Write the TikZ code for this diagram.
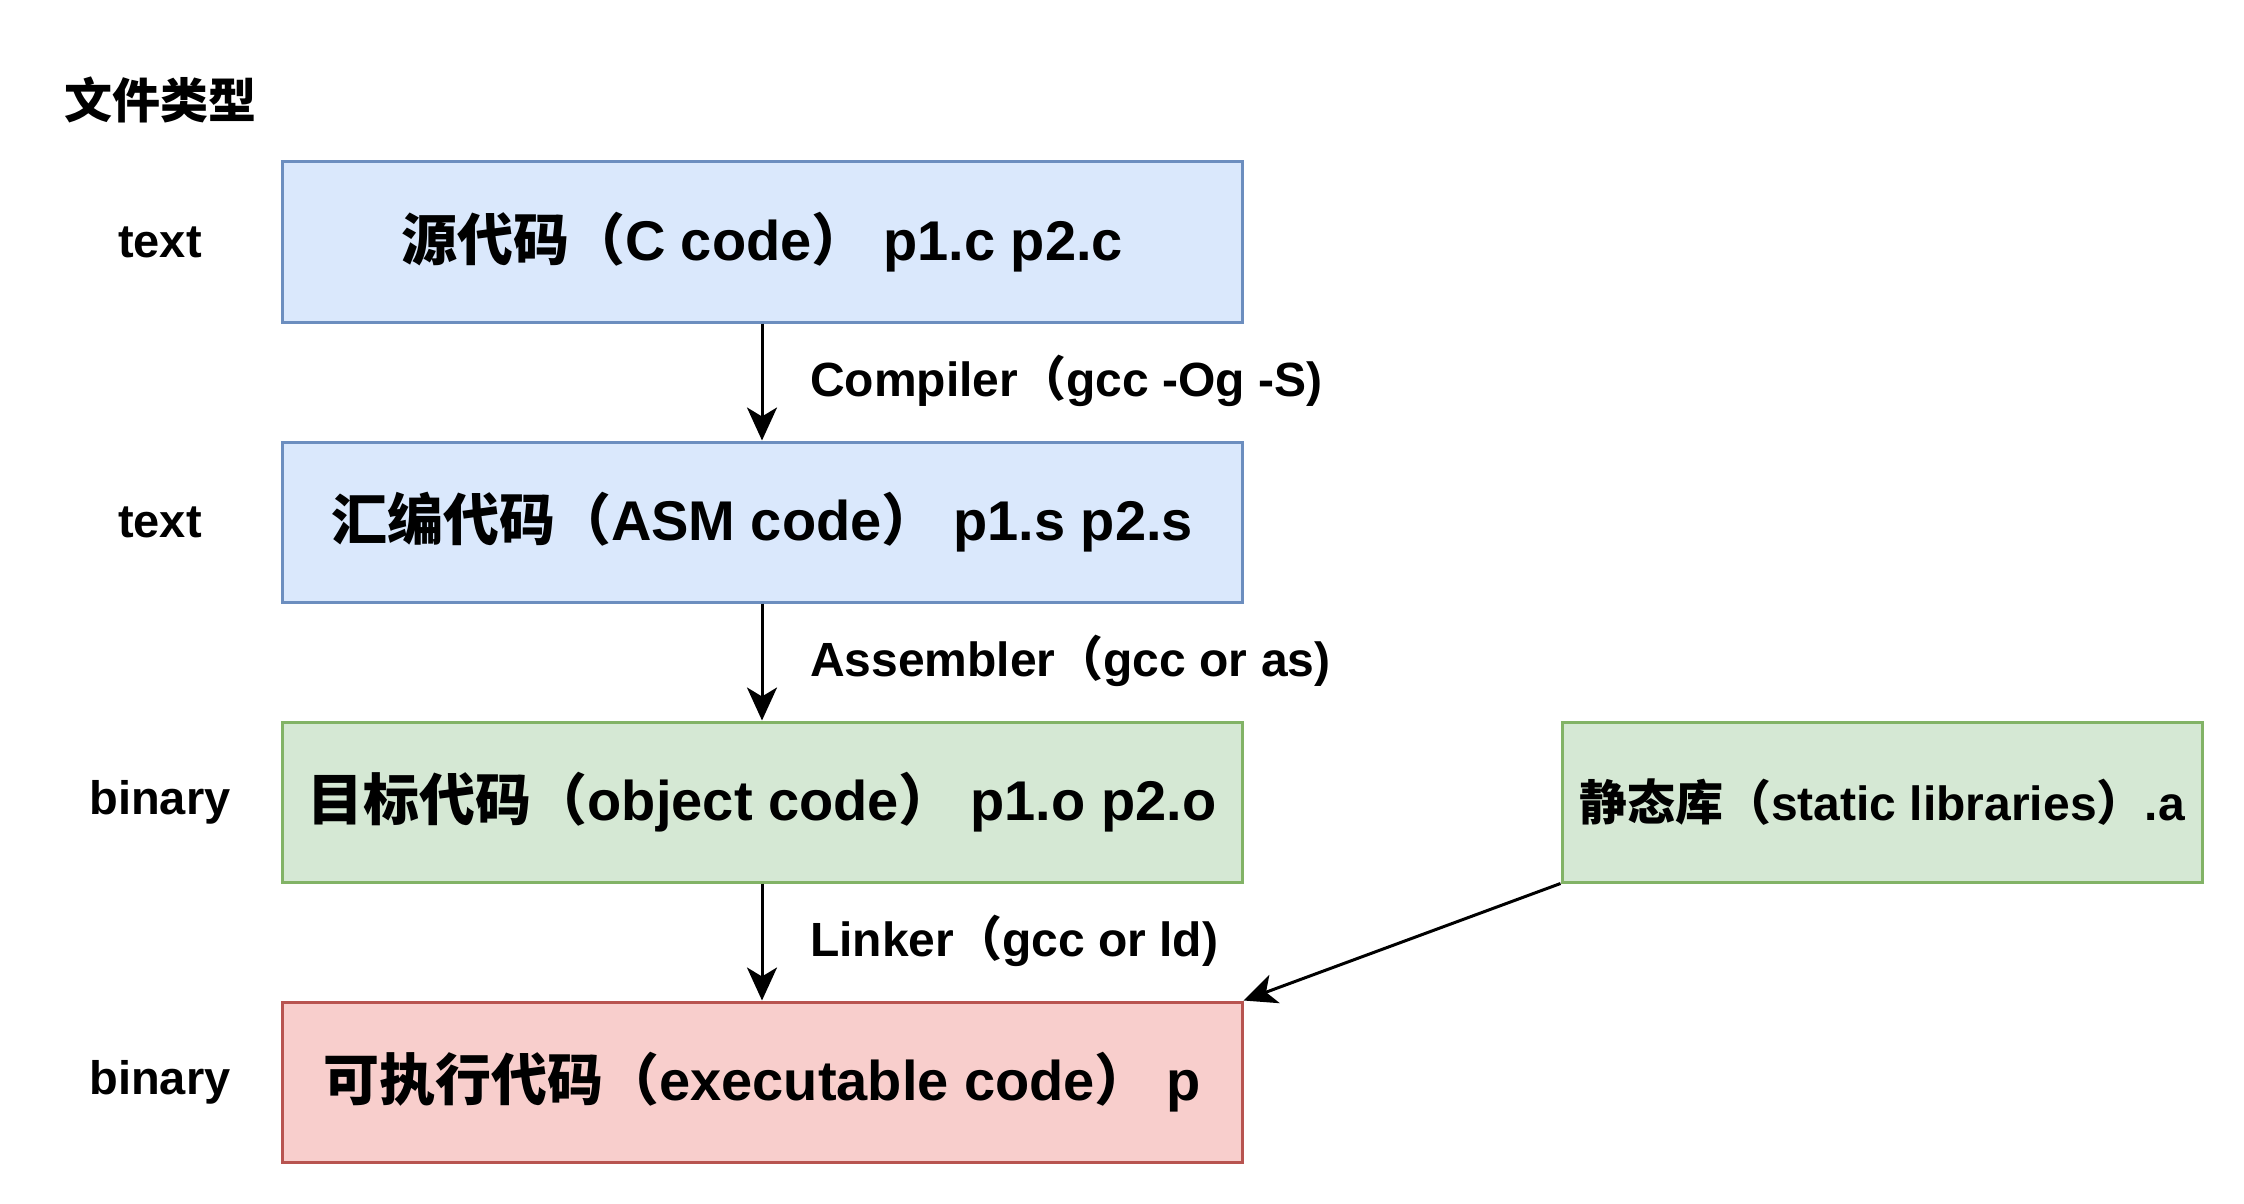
\documentclass[tikz,border=0pt]{standalone}
\usepackage{fontspec}
\setmainfont{Liberation Sans}
\newfontfamily\cjk{Noto Sans CJK SC}
\usetikzlibrary{arrows.meta}
\tikzset{
  boxbase/.style={draw, line width=3pt, minimum width=960pt, minimum height=160pt, inner sep=0pt, font=\bfseries\fontsize{56}{62}\selectfont},
  bluebox/.style={boxbase, fill=blueF, draw=blueD},
  greenbox/.style={boxbase, fill=greenF, draw=greenD},
  redbox/.style={boxbase, fill=redF, draw=redD},
  sidelbl/.style={inner sep=0pt, font=\bfseries\fontsize{47}{52}\selectfont},
  edgelbl/.style={inner sep=0pt, anchor=west, font=\bfseries\fontsize{48}{54}\selectfont},
  conn/.style={line width=3pt, -{Stealth[length=33pt, width=30pt, inset=9pt]}}
}
\definecolor{blueF}{HTML}{DAE8FC}
\definecolor{blueD}{HTML}{6C8EBF}
\definecolor{greenF}{HTML}{D5E8D4}
\definecolor{greenD}{HTML}{82B366}
\definecolor{redF}{HTML}{F8CECC}
\definecolor{redD}{HTML}{B85450}
\begin{document}
\begin{tikzpicture}[x=1pt, y=-1pt]
\useasboundingbox (0,0) rectangle (2244,1204);
\fill[white] (0,0) rectangle (2244,1204);

\node[inner sep=0pt, font=\cjk\bfseries\fontsize{48}{54}\selectfont] (title) at (160,100) {文件类型};

\node[bluebox] (src) at (762,242) {{\cjk 源代码（}C code{\cjk ）} p1.c p2.c};
\node[bluebox] (asm) at (762,522) {{\cjk 汇编代码（}ASM code{\cjk ）} p1.s p2.s};
\node[greenbox] (obj) at (762,802) {{\cjk 目标代码（}object code{\cjk ）} p1.o p2.o};
\node[redbox] (exe) at (762,1082) {{\cjk 可执行代码（}executable code{\cjk ）} p};
\node[greenbox, minimum width=640pt, font=\bfseries\fontsize{48}{54}\selectfont] (lib) at (1882,802) {{\cjk 静态库（}static libraries{\cjk ）}.a};

\node[sidelbl] (l1) at (160,242) {text};
\node[sidelbl] (l2) at (160,522) {text};
\node[sidelbl] (l3) at (160,802) {binary};
\node[sidelbl] (l4) at (160,1082) {binary};

\draw[conn] (src) -- (asm);
\draw[conn] (asm) -- (obj);
\draw[conn] (obj) -- (exe);
\draw[conn] (lib.south west) -- (exe.north east);

\node[edgelbl] (e1) at (810,381) {Compiler{\cjk （}gcc -Og -S)};
\node[edgelbl] (e2) at (810,661) {Assembler{\cjk （}gcc or as)};
\node[edgelbl] (e3) at (810,941) {Linker{\cjk （}gcc or ld)};
\end{tikzpicture}
\end{document}
